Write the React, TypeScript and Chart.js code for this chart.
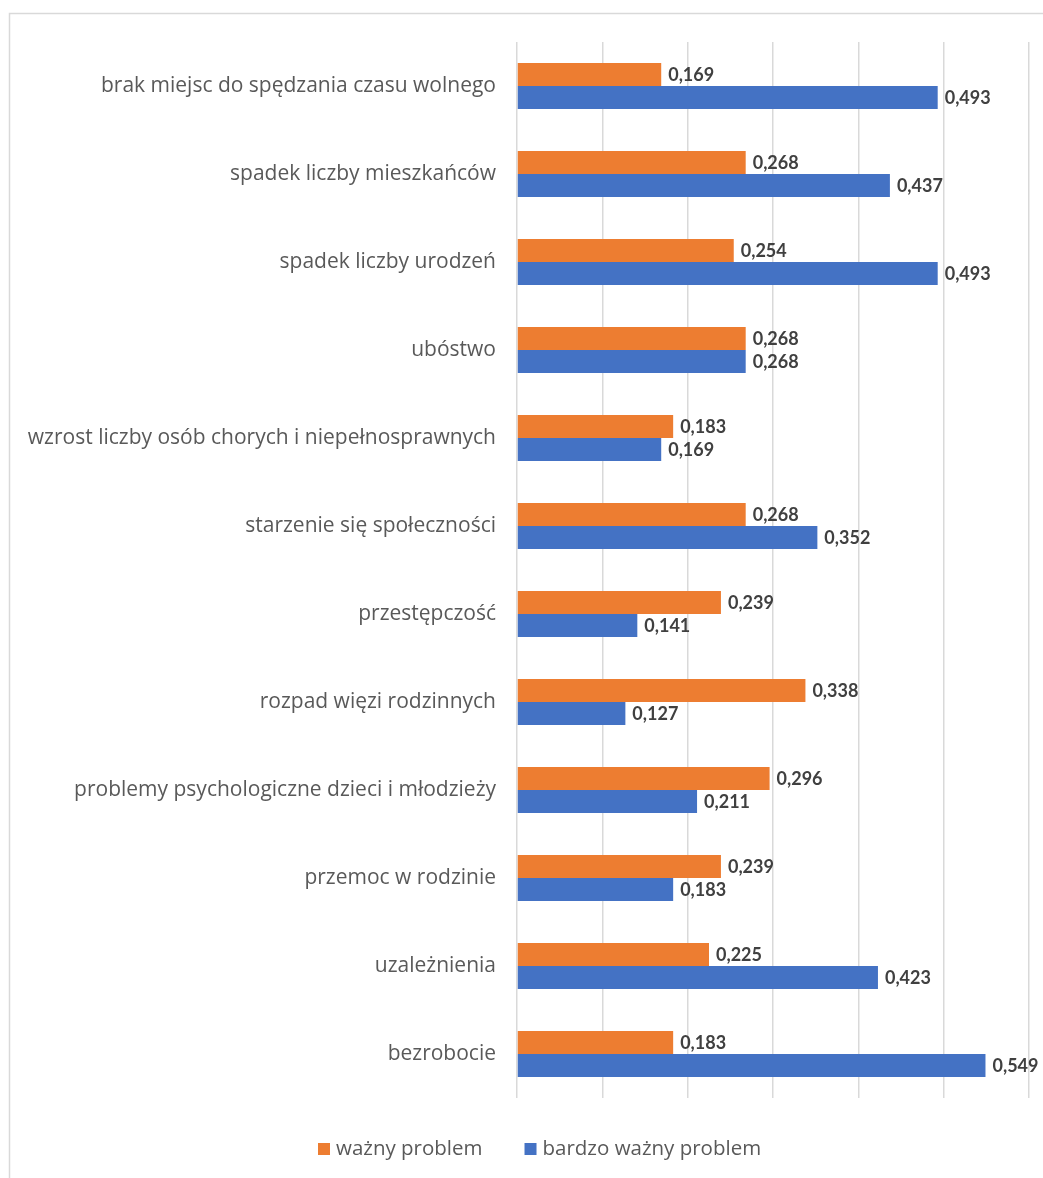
import React, { useEffect, useRef } from "react";
import { Chart, registerables } from "chart.js";

Chart.register(...registerables);

const categories = [
  "brak miejsc do spędzania czasu wolnego",
  "spadek liczby mieszkańców",
  "spadek liczby urodzeń",
  "ubóstwo",
  "wzrost liczby osób chorych i niepełnosprawnych",
  "starzenie się społeczności",
  "przestępczość",
  "rozpad więzi rodzinnych",
  "problemy psychologiczne dzieci i młodzieży",
  "przemoc w rodzinie",
  "uzależnienia",
  "bezrobocie",
];
const waznyProblem = [0.169, 0.268, 0.254, 0.268, 0.183, 0.268, 0.239, 0.338, 0.296, 0.239, 0.225, 0.183];
const bardzoWaznyProblem = [0.493, 0.437, 0.493, 0.268, 0.169, 0.352, 0.141, 0.127, 0.211, 0.183, 0.423, 0.549];
const seriesNames = ["ważny problem", "bardzo ważny problem"];
const seriesColors = ["#ED7D31", "#4472C4"];

const FONT = "'Open Sans', 'Noto Sans', sans-serif";
const BOLD_FONT = "Lato, 'Noto Sans', sans-serif";

const frame = {
  id: "frame",
  beforeDraw(chart: any) {
    const c = chart.ctx;
    c.save();
    c.fillStyle = "#ffffff";
    c.fillRect(0, 0, chart.width, chart.height);
    c.strokeStyle = "#D9D9D9";
    c.lineWidth = 1.5;
    c.strokeRect(9.5, 13.5, chart.width + 20, chart.height + 20);
    c.restore();
  },
};

const valueLabels = {
  id: "valueLabels",
  afterDatasetsDraw(chart: any) {
    const c = chart.ctx;
    c.save();
    c.font = `bold 18px ${BOLD_FONT}`;
    c.fillStyle = "#404040";
    c.textBaseline = "middle";
    c.textAlign = "left";
    chart.data.datasets.forEach((ds: any, di: number) => {
      const meta = chart.getDatasetMeta(di);
      meta.data.forEach((bar: any, i: number) => {
        const v = ds.data[i] as number;
        c.fillText(v.toFixed(3).replace(".", ","), bar.x + 7, bar.y + 1);
      });
    });
    c.restore();
  },
};

const legendPlugin = {
  id: "customLegend",
  afterDraw(chart: any) {
    const c = chart.ctx;
    c.save();
    c.font = `20.5px ${FONT}`;
    c.textBaseline = "middle";
    const y = 1149;
    const gap = 42;
    const sq = 12;
    let x = 318;
    seriesNames.forEach((n, i) => {
      c.fillStyle = seriesColors[i];
      c.fillRect(x, y - sq / 2, sq, sq);
      c.fillStyle = "#595959";
      c.fillText(n, x + sq + 6, y);
      x += sq + 6 + c.measureText(n).width + gap;
    });
    c.restore();
  },
};

export default function App() {
  const ref = useRef<HTMLCanvasElement>(null);
  useEffect(() => {
    if (!ref.current) return;
    const chart = new Chart(ref.current, {
      type: "bar",
      data: {
        labels: categories,
        datasets: [
          { label: seriesNames[0], data: waznyProblem, backgroundColor: seriesColors[0] },
          { label: seriesNames[1], data: bardzoWaznyProblem, backgroundColor: seriesColors[1] },
        ],
      },
      options: {
        indexAxis: "y",
        animation: false,
        responsive: false,
        maintainAspectRatio: false,
        layout: { padding: { left: 0, right: 14, top: 42, bottom: 80 } },
        datasets: {
          bar: { categoryPercentage: 0.525, barPercentage: 1 },
        },
        plugins: {
          legend: { display: false },
          tooltip: { enabled: false },
          title: { display: false },
        },
        scales: {
          x: {
            min: 0,
            max: 0.6,
            ticks: { display: false, stepSize: 0.1 },
            grid: { color: "#D9D9D9", lineWidth: 1.5, drawTicks: false },
            border: { display: false },
            afterFit(scale: any) {
              scale.height = 0;
            },
          },
          y: {
            ticks: {
              color: "#595959",
              font: { family: FONT, size: 21 },
              padding: 21,
            },
            grid: { display: false, drawTicks: false },
            border: { display: false },
            afterFit(scale: any) {
              scale.width = 517;
            },
          },
        },
      },
      plugins: [frame, valueLabels, legendPlugin],
    });
    return () => chart.destroy();
  }, []);
  return (
    <div style={{ position: "fixed", left: 0, top: 0, width: 1043, height: 1178, background: "#fff" }}>
      <canvas ref={ref} width={1043} height={1178} style={{ width: 1043, height: 1178, display: "block" }} />
    </div>
  );
}
